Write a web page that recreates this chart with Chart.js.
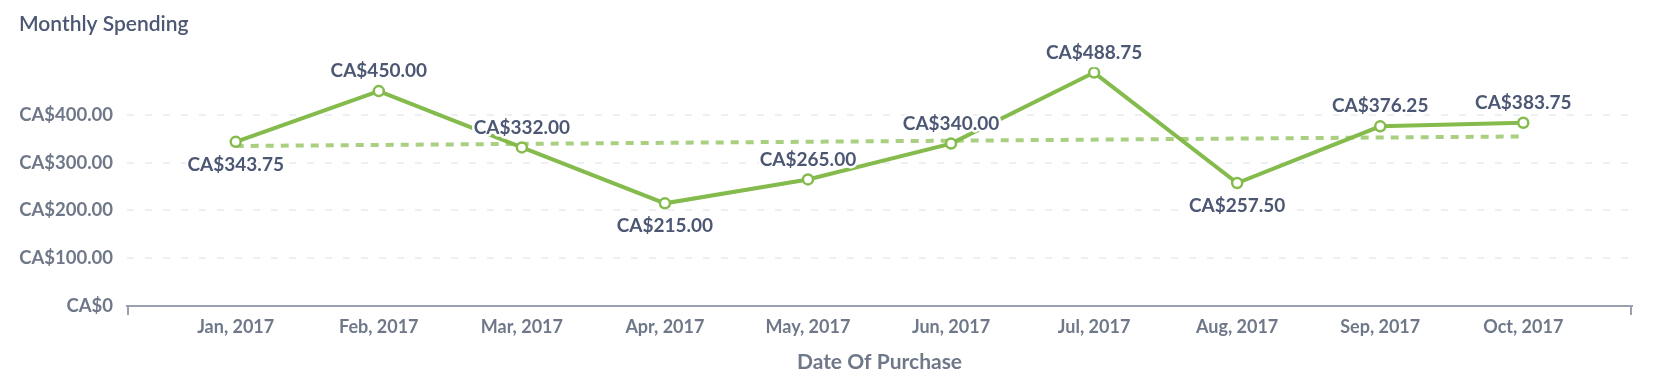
<!DOCTYPE html>
<html>
<head>
<meta charset="utf-8">
<title>Monthly Spending</title>
<script src="https://cdn.jsdelivr.net/npm/chart.js@4"></script>
<style>
  html, body { margin: 0; padding: 0; background: #fff; }
  #wrap { width: 1668px; height: 385px; position: relative; }
</style>
</head>
<body>
<div id="wrap"><canvas id="spendChart"></canvas></div>
<script>
// monthly spending line chart with trend line

const months = ["Jan, 2017", "Feb, 2017", "Mar, 2017", "Apr, 2017", "May, 2017",
                "Jun, 2017", "Jul, 2017", "Aug, 2017", "Sep, 2017", "Oct, 2017"];
const spending = [343.75, 450.00, 332.00, 215.00, 265.00, 340.00, 488.75, 257.50, 376.25, 383.75];
// trend line read at first and last month
const trendEnds = [335, 355];
const yTicks = [0, 100, 200, 300, 400];

const navy = "#4c5773";
const grey = "#6f7888";
const green = "#84bb4c";

const money = v => v === 0 ? "CA$0" : "CA$" + v.toFixed(2);

// value labels with white halo, below a point when it is a local low
const pointLabels = {
  id: "pointLabels",
  afterDatasetsDraw(chart) {
    const ctx = chart.ctx;
    const meta = chart.getDatasetMeta(0);
    ctx.save();
    ctx.font = "bold 19px Lato";
    ctx.textAlign = "center";
    ctx.textBaseline = "middle";
    ctx.lineJoin = "round";
    meta.data.forEach((pt, i) => {
      const v = spending[i];
      const prev = i > 0 ? spending[i - 1] : Infinity;
      const next = i < spending.length - 1 ? spending[i + 1] : Infinity;
      const below = v < prev && v < next;
      const y = below ? pt.y + 23 : pt.y - 20;
      const txt = money(v);
      ctx.strokeStyle = "#fff";
      ctx.lineWidth = 5;
      ctx.strokeText(txt, pt.x, y);
      ctx.fillStyle = navy;
      ctx.fillText(txt, pt.x, y);
    });
    ctx.restore();
  }
};

// small end ticks on the x axis line
const axisEnds = {
  id: "axisEnds",
  afterDraw(chart) {
    const { ctx, chartArea } = chart;
    ctx.save();
    ctx.strokeStyle = "#9aa0ae";
    ctx.lineWidth = 2;
    ctx.beginPath();
    ctx.moveTo(chartArea.left + 1, chartArea.bottom);
    ctx.lineTo(chartArea.left + 1, chartArea.bottom + 9);
    ctx.moveTo(chartArea.right - 1, chartArea.bottom);
    ctx.lineTo(chartArea.right - 1, chartArea.bottom + 9);
    ctx.stroke();
    ctx.restore();
  }
};

Chart.defaults.font.family = "Lato";

new Chart(document.getElementById("spendChart"), {
  type: "line",
  data: {
    datasets: [
      {
        label: "Spending",
        data: spending.map((v, i) => ({ x: i, y: v })),
        borderColor: green,
        borderWidth: 4,
        pointRadius: 5,
        pointBorderWidth: 2.5,
        pointBackgroundColor: "#fff",
        pointBorderColor: green,
        tension: 0,
        order: 1
      },
      {
        label: "Trend",
        data: [{ x: 0, y: trendEnds[0] }, { x: months.length - 1, y: trendEnds[1] }],
        borderColor: "rgba(132, 187, 76, 0.7)",
        borderWidth: 4,
        borderDash: [8, 7],
        pointRadius: 0,
        order: 2
      }
    ]
  },
  options: {
    responsive: true,
    maintainAspectRatio: false,
    animation: false,
    layout: { padding: { left: 19, right: 36, top: 0, bottom: 0 } },
    plugins: {
      legend: { display: false },
      tooltip: { enabled: false },
      title: {
        display: true,
        text: "Monthly Spending",
        align: "start",
        color: navy,
        font: { size: 21, weight: 600 },
        padding: { top: 12, bottom: 30 }
      }
    },
    scales: {
      x: {
        type: "linear",
        min: -0.76,
        max: months.length - 1 + 0.76,
        afterBuildTicks: axis => { axis.ticks = months.map((_, i) => ({ value: i })); },
        afterFit: axis => { axis.height = 79; },
        grid: { display: false, drawTicks: false },
        border: { display: true, color: "#9aa0ae", width: 2 },
        ticks: {
          callback: v => months[v],
          color: grey,
          font: { size: 18, weight: "bold" },
          padding: 10,
          maxRotation: 0,
          autoSkip: false
        },
        title: {
          display: true,
          text: "Date Of Purchase",
          color: grey,
          font: { size: 21, weight: "bold" },
          padding: { top: 0, bottom: 10 }
        }
      },
      y: {
        min: 0,
        max: 500,
        afterBuildTicks: axis => { axis.ticks = yTicks.map(v => ({ value: v })); },
        afterFit: axis => { axis.width = 108; },
        grid: {
          color: "#eeeff2",
          lineWidth: 2,
          drawTicks: false
        },
        border: { display: false, dash: [7, 11] },
        ticks: {
          callback: v => money(v),
          color: grey,
          font: { size: 18.5, weight: "bold" },
          padding: 14
        }
      }
    }
  },
  plugins: [pointLabels, axisEnds]
});
</script>
</body>
</html>
